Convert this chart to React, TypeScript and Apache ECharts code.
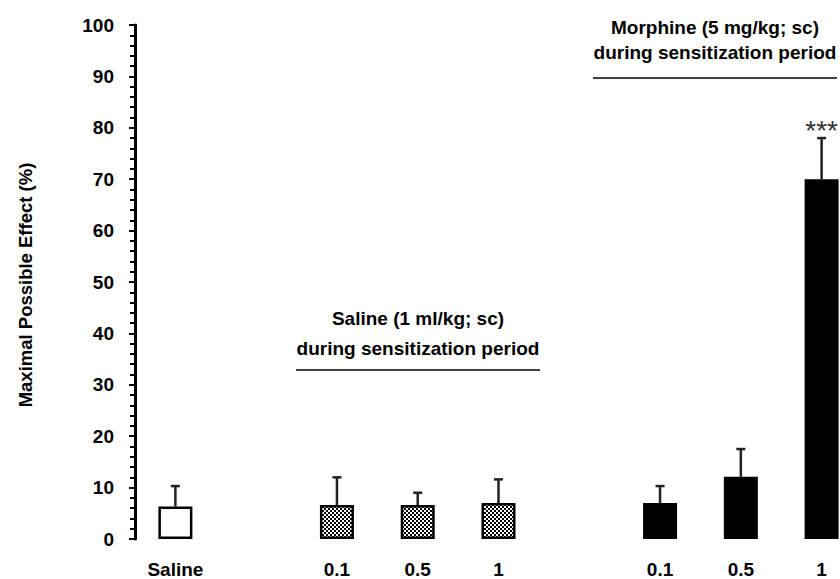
import React, { useEffect, useRef } from "react";
import * as echarts from "echarts";

const categories = ["Saline", "", "0.1", "0.5", "1", "", "0.1", "0.5", "1"];
const treatment = ["control", "", "saline", "saline", "saline", "", "morphine", "morphine", "morphine"];
const means = [6.3, null, 6.6, 6.6, 7.0, null, 7.0, 12.1, 70.0];
const sem = [4.0, null, 5.4, 2.4, 4.6, null, 3.3, 5.4, 8.0];
const significance = ["", "", "", "", "", "", "", "", "***"];
const yTicks = { min: 0, max: 100, interval: 10 };
const yTitle = "Maximal Possible Effect (%)";
const salineNote = ["Saline (1 ml/kg; sc)", "during sensitization period"];
const morphineNote = ["Morphine (5 mg/kg; sc)", "during sensitization period"];

const FONT = "'Liberation Sans', Arial, Helvetica, sans-serif";

function checkerPattern(): any {
  const c = document.createElement("canvas");
  c.width = 4;
  c.height = 4;
  const ctx = c.getContext("2d")!;
  ctx.fillStyle = "#ffffff";
  ctx.fillRect(0, 0, 4, 4);
  ctx.fillStyle = "#000000";
  ctx.fillRect(0, 0, 2, 2);
  ctx.fillRect(2, 2, 2, 2);
  return { image: c.toDataURL(), repeat: "repeat", imageWidth: 4, imageHeight: 4 };
}

export default function App() {
  const ref = useRef<HTMLDivElement>(null);
  useEffect(() => {
    if (!ref.current) return;
    const chart = echarts.init(ref.current, null, { renderer: "svg" });
    const pattern = checkerPattern();
    const styleFor = (t: string) => {
      if (t === "control") return { color: "#ffffff", borderColor: "#000", borderWidth: 2.5 };
      if (t === "saline") return { color: pattern, borderColor: "#000", borderWidth: 2.5 };
      return { color: "#000000", borderColor: "#000", borderWidth: 0 };
    };
    const barData = means.map((v, i) =>
      v == null ? null : { value: v, itemStyle: styleFor(treatment[i]) }
    );
    const errData = means
      .map((v, i) => (v == null ? null : [i, v, v + (sem[i] as number), significance[i]]))
      .filter((d) => d != null);

    const textStyle = { fontFamily: FONT, fontWeight: "bold", fontSize: 19, fill: "#000" };

    chart.setOption({
      animation: false,
      grid: { left: 135, right: 18, top: 25, bottom: 39 },
      xAxis: {
        type: "category",
        data: categories,
        axisLine: { show: false },
        axisTick: { show: false },
        axisLabel: {
          interval: 0,
          margin: 21,
          color: "#000",
          fontFamily: FONT,
          fontWeight: "bold",
          fontSize: 19,
        },
      },
      yAxis: {
        type: "value",
        min: yTicks.min,
        max: yTicks.max,
        interval: yTicks.interval,
        axisLine: { show: true, lineStyle: { color: "#000", width: 3 } },
        axisTick: { show: true, length: 6, lineStyle: { color: "#000", width: 2 } },
        minorTick: { show: true, splitNumber: 5, length: 5, lineStyle: { color: "#000", width: 2 } },
        splitLine: { show: false },
        axisLabel: {
          margin: 21,
          color: "#000",
          fontFamily: FONT,
          fontWeight: "bold",
          fontSize: 19,
        },
      },
      series: [
        {
          type: "bar",
          data: barData,
          barWidth: 34,
          z: 2,
        },
        {
          type: "custom",
          z: 3,
          data: errData,
          renderItem: (params: any, api: any) => {
            const idx = api.value(0);
            const v = api.value(1);
            const u = api.value(2);
            const sig = errData[params.dataIndex][3] as string;
            const p0 = api.coord([idx, v]);
            const p1 = api.coord([idx, u]);
            const children: any[] = [
              {
                type: "line",
                shape: { x1: p0[0], y1: p0[1], x2: p1[0], y2: p1[1] },
                style: { stroke: "#222", lineWidth: 2.5 },
              },
              {
                type: "line",
                shape: { x1: p1[0] - 4.5, y1: p1[1], x2: p1[0] + 4.5, y2: p1[1] },
                style: { stroke: "#222", lineWidth: 2.5 },
              },
            ];
            if (sig) {
              children.push({
                type: "text",
                style: {
                  text: sig,
                  x: p1[0],
                  y: p1[1] - 8,
                  align: "center",
                  verticalAlign: "middle",
                  fontFamily: FONT,
                  fontSize: 28,
                  fill: "#333",
                },
              });
            }
            return { type: "group", children };
          },
        },
      ],
      graphic: [
        {
          type: "text",
          x: 25,
          y: 285,
          rotation: Math.PI / 2,
          style: { ...textStyle, fontSize: 18.5, text: yTitle, align: "center", verticalAlign: "middle" },
        },
        { type: "text", style: { ...textStyle, text: salineNote[0], x: 418, y: 318, align: "center", verticalAlign: "middle" } },
        { type: "text", style: { ...textStyle, text: salineNote[1], x: 418, y: 348, align: "center", verticalAlign: "middle" } },
        { type: "line", shape: { x1: 296, y1: 370, x2: 540, y2: 370 }, style: { stroke: "#000", lineWidth: 1.5 } },
        { type: "text", style: { ...textStyle, text: morphineNote[0], x: 715, y: 27, align: "center", verticalAlign: "middle" } },
        { type: "text", style: { ...textStyle, text: morphineNote[1], x: 715, y: 52, align: "center", verticalAlign: "middle" } },
        { type: "line", shape: { x1: 593, y1: 78, x2: 837, y2: 78 }, style: { stroke: "#000", lineWidth: 1.5 } },
      ],
    });
    return () => chart.dispose();
  }, []);

  return (
    <div style={{ position: "fixed", left: 0, top: 0, width: 840, height: 579, overflow: "hidden", background: "#fff" }}>
      <div ref={ref} style={{ width: 880, height: 579 }} />
    </div>
  );
}
